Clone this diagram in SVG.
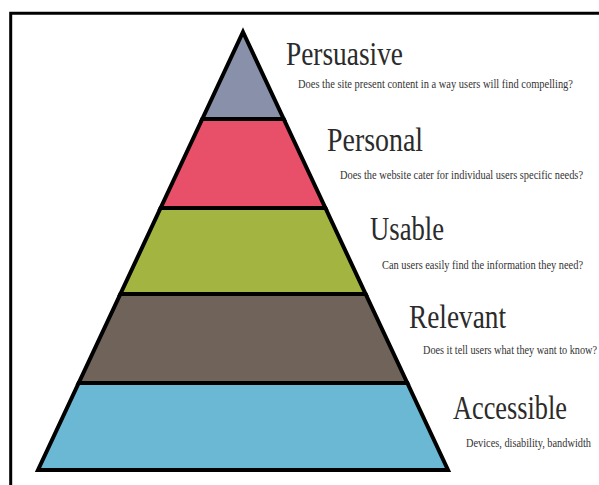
<svg xmlns="http://www.w3.org/2000/svg" width="599" height="485" viewBox="0 0 599 485">
<style>
.band{stroke:#000;stroke-width:4;stroke-linejoin:miter}
.title{font-family:"Liberation Serif",serif;font-size:33px;fill:#2b2b2b}
.sub{font-family:"Liberation Serif",serif;font-size:12px;fill:#333}
.frame{stroke:#000;stroke-width:3;fill:none}
</style>
<rect width="599" height="485" fill="#fff"/>
<path class="frame" d="M10.7 485 V13.3 H599"/>
<g id="persuasive">
<polygon class="band" fill="#8891a9" points="243,32 283.7,119 202.3,119"/>
<text class="title" transform="translate(286,65) scale(0.83,1)" textLength="141" lengthAdjust="spacingAndGlyphs">Persuasive</text>
<text class="sub" transform="translate(298,88) scale(0.85,1)" textLength="323.5" lengthAdjust="spacingAndGlyphs">Does the site present content in a way users will find compelling?</text>
</g>
<g id="personal">
<polygon class="band" fill="#e84f68" points="202.3,119 283.7,119 325.4,208 160.6,208"/>
<text class="title" transform="translate(327,151) scale(0.83,1)" textLength="115.7" lengthAdjust="spacingAndGlyphs">Personal</text>
<text class="sub" transform="translate(340,179) scale(0.85,1)" textLength="285.9" lengthAdjust="spacingAndGlyphs">Does the website cater for individual users specific needs?</text>
</g>
<g id="usable">
<polygon class="band" fill="#a4b441" points="160.6,208 325.4,208 365.6,294 120.4,294"/>
<text class="title" transform="translate(370,240) scale(0.83,1)" textLength="89.2" lengthAdjust="spacingAndGlyphs">Usable</text>
<text class="sub" transform="translate(382,269) scale(0.85,1)" textLength="236.5" lengthAdjust="spacingAndGlyphs">Can users easily find the information they need?</text>
</g>
<g id="relevant">
<polygon class="band" fill="#6f635a" points="120.4,294 365.6,294 407.3,383 78.7,383"/>
<text class="title" transform="translate(409,328) scale(0.83,1)" textLength="116.9" lengthAdjust="spacingAndGlyphs">Relevant</text>
<text class="sub" transform="translate(423,354) scale(0.85,1)" textLength="204.7" lengthAdjust="spacingAndGlyphs">Does it tell users what they want to know?</text>
</g>
<g id="accessible">
<polygon class="band" fill="#6bb8d4" points="78.7,383 407.3,383 448,470 38,470"/>
<text class="title" transform="translate(453,419) scale(0.83,1)" textLength="137.3" lengthAdjust="spacingAndGlyphs">Accessible</text>
<text class="sub" transform="translate(466,447) scale(0.85,1)" textLength="147" lengthAdjust="spacingAndGlyphs">Devices, disability, bandwidth</text>
</g>
</svg>
